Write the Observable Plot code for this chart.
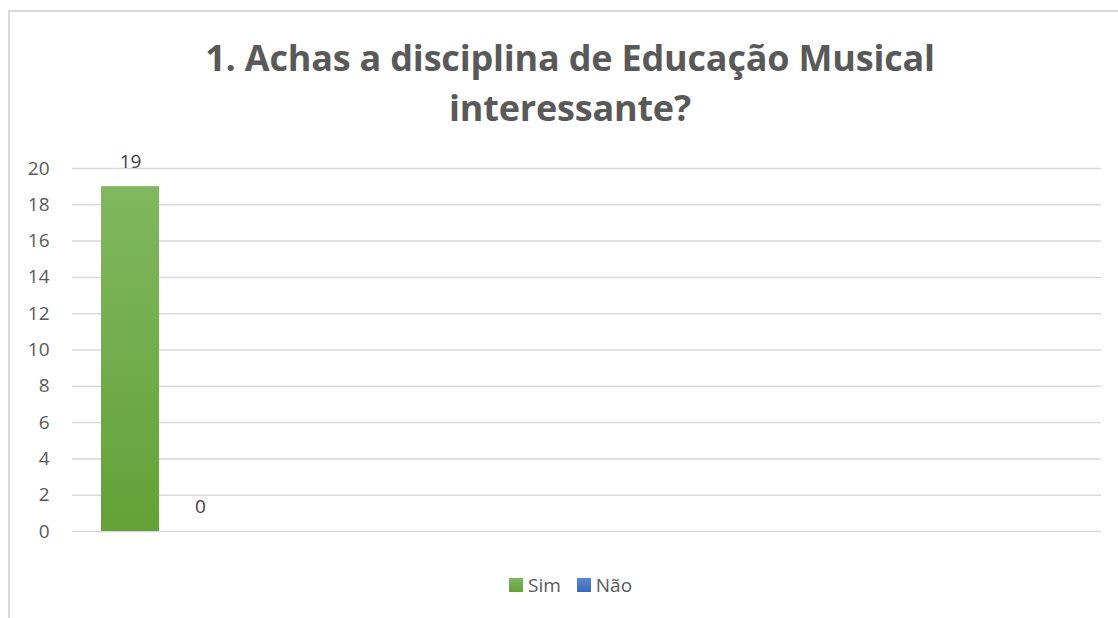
<!DOCTYPE html>
<html>
<head>
<meta charset="utf-8">
<script src="https://cdn.jsdelivr.net/npm/d3@7"></script>
<script src="https://cdn.jsdelivr.net/npm/@observablehq/plot@0.6"></script>
<style>
  html, body { margin: 0; padding: 0; background: #fff; width: 1118px; height: 618px; overflow: hidden; }
  #frame { position: absolute; left: 8px; top: 10px; width: 1300px; height: 800px; border: 2px solid #d9d9d9; box-sizing: border-box; }
  #title { position: absolute; left: 0; top: 33px; width: 1140px; text-align: center; font-family: "Open Sans", sans-serif; font-weight: 700; font-size: 36px; line-height: 50px; color: #595959; letter-spacing: -0.2px; }
  #chart { position: absolute; left: 0; top: 0; }
  #legend { position: absolute; left: 509px; top: 572px; font-family: "Open Sans", sans-serif; font-size: 19px; color: #595959; display: flex; align-items: center; }
  #legend .sw { width: 14px; height: 14px; display: inline-block; margin-right: 5px; }
  #legend .item { display: flex; align-items: center; margin-right: 16px; }
</style>
</head>
<body>
<div id="frame"></div>
<div id="title"></div>
<div id="chart"></div>
<div id="legend"></div>
<script>
const titleLines = ["1. Achas a disciplina de Educação Musical", "interessante?"];
const series = ["Sim", "Não"];
const values = [19, 0];
const colorsTop = ["#80b860", "#5c86d2"];
const colorsBottom = ["#62a236", "#3b68ba"];
const yTicks = [0, 2, 4, 6, 8, 10, 12, 14, 16, 18, 20];

const data = series.map((s, i) => ({serie: s, value: values[i]}));

document.getElementById("title").innerHTML = titleLines.join("<br>");

const plot = Plot.plot({
  width: 1118,
  height: 560,
  marginLeft: 72,
  marginRight: 17,
  marginTop: 168,
  marginBottom: 29,
  style: {fontFamily: "Open Sans, sans-serif", fontSize: "19px", color: "#595959", background: "transparent"},
  x: {domain: series, range: [100, 230], paddingInner: 0.169, paddingOuter: 0, axis: null},
  y: {domain: [0, 20], ticks: yTicks, tickSize: 0, tickPadding: 23, label: null},
  color: {domain: series, range: series.map((s, i) => `url(#grad${i})`)},
  marks: [
    Plot.ruleY(yTicks, {stroke: "#d9d9d9", strokeWidth: 1.5}),
    Plot.axisY({ticks: yTicks, tickSize: 0, tickPadding: 23, label: null, fill: "#595959", fontSize: 19}),
    Plot.barY(data, {x: "serie", y: "value", fill: "serie"}),
    Plot.text(data, {x: "serie", y: "value", text: d => String(d.value), dy: -25, fontSize: 19, fill: "#404040"})
  ]
});

// gradients
const ns = "http://www.w3.org/2000/svg";
const defs = document.createElementNS(ns, "defs");
series.forEach((s, i) => {
  const g = document.createElementNS(ns, "linearGradient");
  g.setAttribute("id", `grad${i}`);
  g.setAttribute("x1", "0"); g.setAttribute("y1", "0");
  g.setAttribute("x2", "0"); g.setAttribute("y2", "1");
  const s1 = document.createElementNS(ns, "stop");
  s1.setAttribute("offset", "0"); s1.setAttribute("stop-color", colorsTop[i]);
  const s2 = document.createElementNS(ns, "stop");
  s2.setAttribute("offset", "1"); s2.setAttribute("stop-color", colorsBottom[i]);
  g.appendChild(s1); g.appendChild(s2);
  defs.appendChild(g);
});
plot.insertBefore(defs, plot.firstChild);
document.getElementById("chart").appendChild(plot);

// legend
const legend = document.getElementById("legend");
series.forEach((s, i) => {
  const item = document.createElement("span");
  item.className = "item";
  item.innerHTML = `<span class="sw" style="background: linear-gradient(${colorsTop[i]}, ${colorsBottom[i]})"></span>${s}`;
  legend.appendChild(item);
});
</script>
</body>
</html>
